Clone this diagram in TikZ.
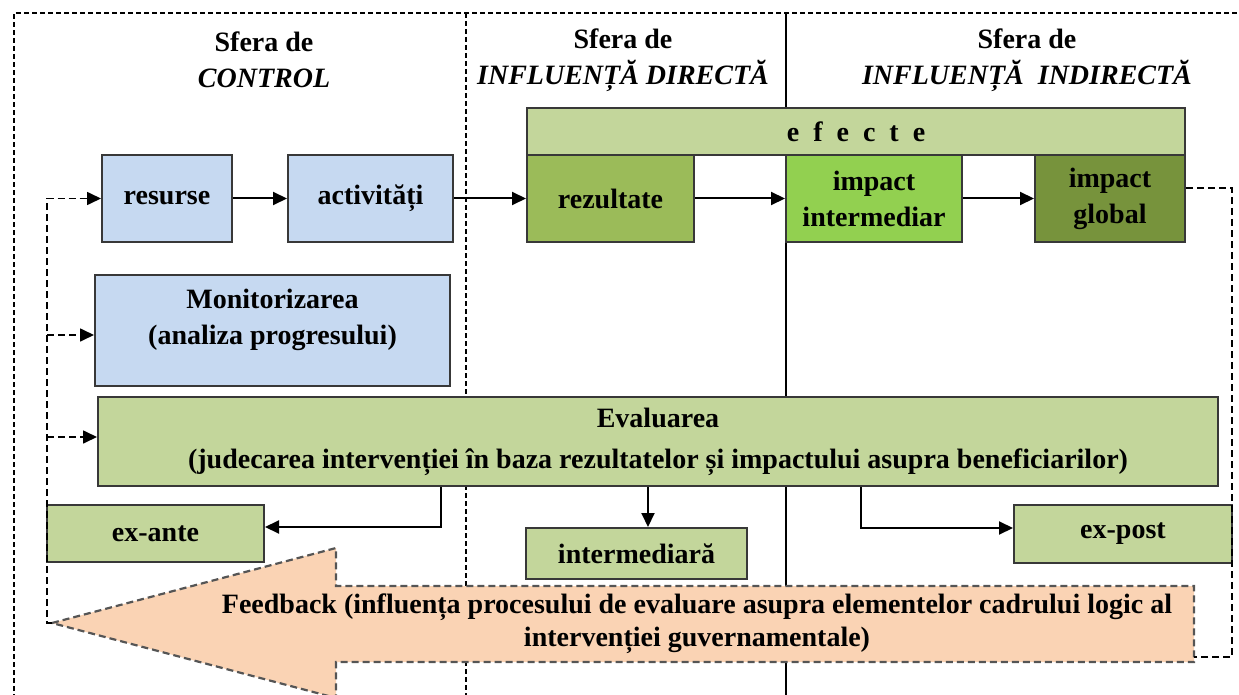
\documentclass[tikz,border=0pt]{standalone}
\usepackage{fontspec}
\setmainfont{Liberation Serif}
\usepackage{xcolor}
\usetikzlibrary{arrows.meta,positioning}

\definecolor{cblue}{HTML}{C6D9F1}
\definecolor{clight}{HTML}{C3D69B}
\definecolor{cres}{HTML}{9BBB59}
\definecolor{cimp}{HTML}{92D050}
\definecolor{cglob}{HTML}{77933C}
\definecolor{cpeach}{HTML}{FAD3B4}
\definecolor{cedge}{HTML}{383838}
\definecolor{cfb}{HTML}{555555}

\tikzset{
	box/.style={draw=cedge,line width=2pt,inner sep=0pt,align=center},
	fx/.style={line width=2pt,-{Triangle[length=14pt,width=13pt]}},
	back/.style={line width=1.7pt,dash pattern=on 7pt off 4pt},
	frame/.style={line width=1.3pt,dash pattern=on 5pt off 3pt},
}

\begin{document}
\begin{tikzpicture}[x=1pt,y=-1pt,font=\fontsize{28}{36}\selectfont\bfseries]
		\useasboundingbox (0,0) rectangle (1239,695);
		\draw[frame](14,715)--(14,13)--(1255,13)--(1255,715);
		\draw[frame](466,13)--(466,715);
		\draw[line width=1.3pt](786,13)--(786,715);
		\node[align=center] (h1) at (264,60) {Sfera de\\\textit{CONTROL}};
		\node[align=center] (h2) at (623,60) {Sfera de\\\textit{INFLUENȚĂ DIRECTĂ}};
		\node[align=center] (h3) at (1027,60) {Sfera de\\\textit{INFLUENȚĂ\ \ INDIRECTĂ}};
		\coordinate (fbtip) at (52,623);
		\coordinate (fbend) at (1194,657);
		\filldraw[fill=cpeach,draw=cfb,line width=2.2pt,dash pattern=on 7pt off 4pt](fbtip)--(336,548)--(336,586)--(1194,586)--(1194,662)--(336,662)--(336,698)--cycle;
		\node[align=center,font=\fontsize{28}{33}\selectfont\bfseries] (fb) at (697,624) {Feedback (influența procesului de evaluare asupra elementelor cadrului logic al\\intervenției guvernamentale)};
		\node[box,fill=clight,minimum width=658pt,minimum height=47pt] (ef) at (856,131.5) {e\hspace{14pt}f\hspace{14pt}e\hspace{14pt}c\hspace{14pt}t\hspace{14pt}e};
		\node[box,fill=cblue,minimum width=130pt,minimum height=87pt] (res) at (167,198.5) {resurse};
		\node[box,fill=cblue,minimum width=165pt,minimum height=87pt] (act) at (370.5,198.5) {activități};
		\node[box,fill=cres,minimum width=167pt,minimum height=87pt] (rez) at (610.5,198.5) {rezultate};
		\node[box,fill=cimp,minimum width=176pt,minimum height=87pt] (imi) at (874,198.5) {impact\\intermediar};
		\node[box,fill=cglob,minimum width=150pt,minimum height=87pt] (glob) at (1110,198.5) {impact\\global};
		\node[box,fill=cblue,minimum width=355pt,minimum height=111pt] (mon) at (272.5,330.5) {};
		\node[align=center] (montxt) at (272.5,320) {Monitorizarea\\(analiza progresului)};
		\node[box,fill=clight,minimum width=1120pt,minimum height=89pt] (eval) at (658,441.5) {Evaluarea\\[5pt](judecarea intervenției în baza rezultatelor și impactului asupra beneficiarilor)};
		\node[box,fill=clight,minimum width=217pt,minimum height=57pt] (exa) at (155.5,533.5) {ex-ante};
		\node[box,fill=clight,minimum width=221pt,minimum height=51pt] (intm) at (636.5,553.5) {intermediară};
		\node[box,fill=clight,minimum width=218pt,minimum height=58pt] (exp) at (1123,534) {ex-post};
		\draw[fx](res)--(act);
		\draw[fx](act)--(rez);
		\draw[fx](rez)--(imi);
		\draw[fx](imi)--(glob);
		\draw[fx](eval.south -| 441,0)|-(exa.east |- 0,527);
		\draw[fx](eval.south -| 648,0)--(intm.north -| 648,0);
		\draw[fx](eval.south -| 861,0)|-(exp.west |- 0,528);
		\coordinate (lx) at (47,623);
		\draw[back,-{Triangle[length=14pt,width=13pt]}](fbtip)--(lx)|-(res.west);
		\draw[back,-{Triangle[length=14pt,width=13pt]}](lx |- 0,335)--(mon.west |- 0,335);
		\draw[back,-{Triangle[length=14pt,width=13pt]}](lx |- 0,437)--(eval.west |- 0,437);
		\draw[back](glob.east |- 0,188)-|(1232,657)--(fbend);
\end{tikzpicture}
\end{document}
